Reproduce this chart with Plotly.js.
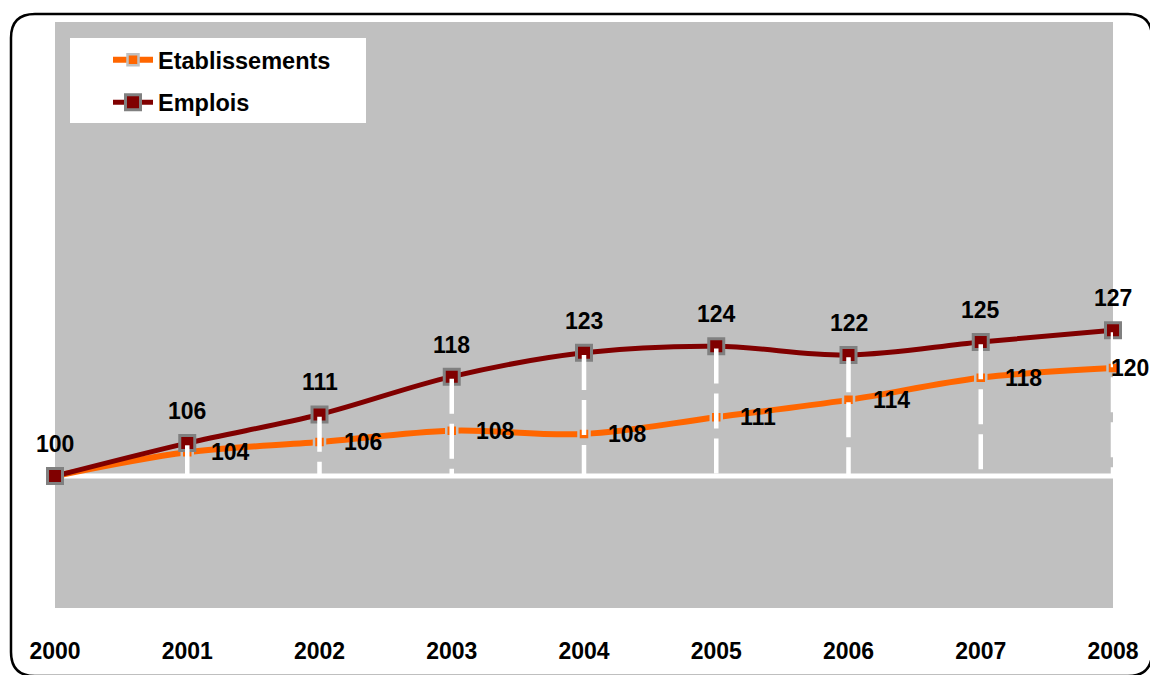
<!DOCTYPE html>
<html>
<head>
<meta charset="utf-8">
<script src="https://cdn.plot.ly/plotly-3.0.1.min.js"></script>
<style>
  html, body { margin: 0; padding: 0; background: #ffffff; }
  #chart { width: 1150px; height: 675px; }
</style>
</head>
<body>
<div id="chart"></div>
<script>
// ---- data ----
const years = [2000, 2001, 2002, 2003, 2004, 2005, 2006, 2007, 2008];
const yearLabels = ["2000", "2001", "2002", "2003", "2004", "2005", "2006", "2007", "2008"];
const etablissements = [100, 104.4, 106.3, 108.4, 107.8, 110.9, 114.1, 118.2, 120.0];
const etablissementsLabels = ["", "104", "106", "108", "108", "111", "114", "118", "120"];
const emplois = [100, 106.1, 111.4, 118.4, 122.8, 124.0, 122.4, 124.8, 127.0];
const emploisLabels = ["100", "106", "111", "118", "123", "124", "122", "125", "127"];
const baseValue = 100;

// ---- layout geometry ----
const W = 1150, H = 675;
const M = { l: 55, r: 37, t: 22, b: 67 };
const PW = W - M.l - M.r, PH = H - M.t - M.b;
const px = x => (x - M.l) / PW;
const py = y => (H - M.b - y) / PH;

const FONT = '"Liberation Sans", Arial, sans-serif';

function roundedRect(x0, y0, x1, y1, r) {
  const f = (x, y) => px(x).toFixed(5) + ',' + py(y).toFixed(5);
  return 'M' + f(x0 + r, y0) +
    ' L' + f(x1 - r, y0) + ' Q' + f(x1, y0) + ' ' + f(x1, y0 + r) +
    ' L' + f(x1, y1 - r) + ' Q' + f(x1, y1) + ' ' + f(x1 - r, y1) +
    ' L' + f(x0 + r, y1) + ' Q' + f(x0, y1) + ' ' + f(x0, y1 - r) +
    ' L' + f(x0, y0 + r) + ' Q' + f(x0, y0) + ' ' + f(x0 + r, y0) + ' Z';
}

const traces = [
  {
    name: 'Etablissements',
    x: years, y: etablissements,
    type: 'scatter', mode: 'lines+markers',
    line: { color: '#FF6600', width: 6, shape: 'spline', smoothing: 1 },
    marker: { symbol: 'square', size: 11, color: '#FF6600', line: { color: '#C0C0C0', width: 2.5 } },
    cliponaxis: false, hoverinfo: 'skip',
    legendgroup: 'a'
  },
  {
    name: 'Emplois',
    x: years, y: emplois,
    type: 'scatter', mode: 'lines+markers',
    line: { color: '#800000', width: 5, shape: 'spline', smoothing: 1 },
    marker: { symbol: 'square', size: 15, color: '#800000', line: { color: '#808080', width: 3 } },
    cliponaxis: false, hoverinfo: 'skip',
    legendgroup: 'b'
  }
];

const shapes = [
  // legend box
  { type: 'rect', xref: 'paper', yref: 'paper', layer: 'below',
    x0: px(70), x1: px(366), y0: py(123), y1: py(38),
    fillcolor: '#FFFFFF', line: { width: 0 } },
  // base line at 100
  { type: 'line', xref: 'paper', yref: 'y', layer: 'below',
    x0: 0, x1: 1, y0: baseValue, y1: baseValue,
    line: { color: '#FFFFFF', width: 5 } },
  // outer rounded frame
  { type: 'path', xref: 'paper', yref: 'paper', layer: 'above',
    path: roundedRect(11, 14, 1152, 676, 24),
    line: { color: '#000000', width: 2.5 }, fillcolor: 'rgba(0,0,0,0)' }
];
// drop lines from Emplois points down to the base value
years.forEach((yr, i) => {
  if (i === 0) return;
  shapes.push({ type: 'line', xref: 'x', yref: 'y', layer: 'above',
    x0: yr, x1: yr, y0: emplois[i] - 0.4, y1: baseValue,
    line: { color: '#FFFFFF', width: 4.5, dash: '35px,10px' } });
});

const annotations = [];
years.forEach((yr, i) => {
  annotations.push({
    x: yr, y: emplois[i], text: emploisLabels[i], showarrow: false,
    xanchor: 'center', yanchor: 'middle', yshift: 32,
    font: { family: FONT, size: 23, color: '#000000', weight: 700 }
  });
  if (etablissementsLabels[i]) {
    const last = i === years.length - 1;
    annotations.push({
      x: yr, y: etablissements[i], text: etablissementsLabels[i], showarrow: false,
      xanchor: 'left', yanchor: 'middle', xshift: last ? -4 : 22, yshift: 0,
      font: { family: FONT, size: 23, color: '#000000', weight: 700 }
    });
  }
});

const layout = {
  width: W, height: H,
  margin: M,
  paper_bgcolor: '#FFFFFF',
  plot_bgcolor: '#C0C0C0',
  showlegend: true,
  legend: {
    x: px(108), y: py(38), xanchor: 'left', yanchor: 'top',
    bgcolor: 'rgba(0,0,0,0)', borderwidth: 0,
    font: { family: FONT, size: 23.5, color: '#000000', weight: 700 },
    tracegroupgap: 9, itemwidth: 40
  },
  xaxis: {
    range: [2000, 2008], tickvals: years, ticktext: yearLabels,
    showgrid: false, zeroline: false, showline: false, ticks: '',
    ticklabelstandoff: 27,
    tickfont: { family: FONT, size: 23, color: '#000000', weight: 700 },
    fixedrange: true
  },
  yaxis: {
    range: [75.6, 184], showgrid: false, zeroline: false, showline: false,
    showticklabels: false, ticks: '', fixedrange: true
  },
  shapes: shapes,
  annotations: annotations
};

Plotly.newPlot('chart', traces, layout, { displayModeBar: false, staticPlot: true });
</script>
</body>
</html>
